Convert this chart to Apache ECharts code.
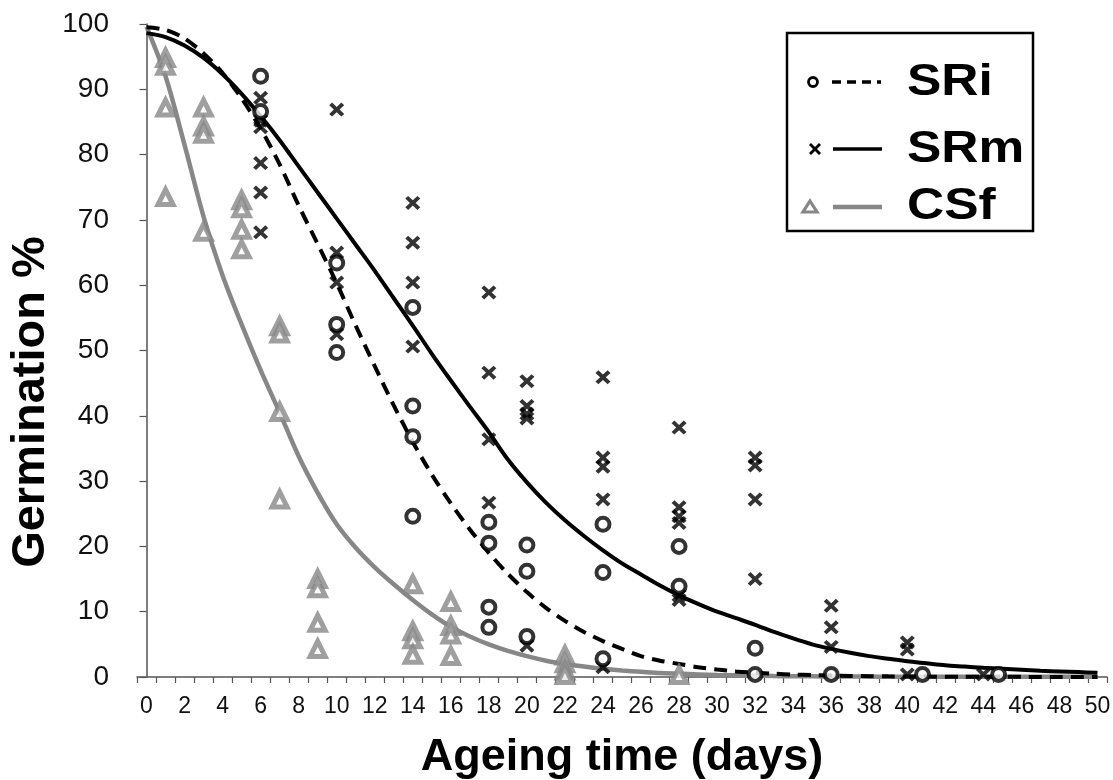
<!DOCTYPE html>
<html>
<head>
<meta charset="utf-8">
<script src="https://cdn.jsdelivr.net/npm/echarts@6/dist/echarts.min.js"></script>
<style>html,body{margin:0;padding:0;background:#fff}#c{width:1113px;height:780px}</style>
</head>
<body>
<div id="c"></div>
<script>
// ---- data ----
const xCategories = Array.from({length: 51}, (_, i) => String(i)); // tick labels 0..50 (every 2nd shown)
const yTicks = [0, 10, 20, 30, 40, 50, 60, 70, 80, 90, 100];

const sriX = [6,6,10,10,10,14,14,14,14,18,18,18,18,20,20,20,24,24,24,28,28,32,32,36,40.8,44.8];
const sriY = [92,86.6,63.4,54,49.7,56.6,41.5,36.8,24.6,23.7,20.5,10.7,7.6,20.2,16.2,6.2,23.4,16,2.8,20,13.9,4.4,0.4,0.4,0.4,0.4];

const srmX = [6,6,6,6,6,6,10,10,10,10,14,14,14,14,18,18,18,18,20,20,20,20,20,24,24,24,24,24,28,28,28,28,28,28,32,32,32,32,36,36,36,40,40,40,44];
const srmY = [88.7,85.2,84.2,78.7,74.2,68.1,86.9,65,60.4,52.5,72.6,66.5,60.4,50.6,58.9,46.6,36.4,26.7,45.3,41.5,40.3,39.6,4.8,45.9,33.6,32.2,27.2,1.5,38.2,26,24.6,23.6,12.5,11.8,33.6,32.4,27.2,15,10.9,7.6,4.6,5.3,4.2,0.4,0.4];

const csfX = [1,1,1,1,3,3,3,3,5,5,5,5,7,7,7,7,9,9,9,9,14,14,14,14,16,16,16,16,22,22,22,22,28];
const csfY = [94.8,93.6,87.2,73.5,87.2,84.3,83.2,68.2,73,71.8,68.5,65.5,53.7,52.6,40.6,27.2,15,13.6,8.3,4.3,14.2,7,5.8,3.4,11.5,7.8,6.5,3.2,3.3,2.1,1,0.3,0.3];

// fitted curves, read at each day 0..50
const curveX = Array.from({length: 51}, (_, i) => i);
const sriFit = [99.5,99.1,97.8,95.5,92.5,88.6,84,78.5,72.2,66.3,60.3,53.8,47.6,41.6,36,31,26.6,22.6,19,15.8,13,10.6,8.6,6.9,5.5,4.3,3.2,2.5,2,1.5,1.15,0.85,0.65,0.5,0.38,0.3,0.22,0.17,0.13,0.1,0.08,0.06,0.05,0.04,0.03,0.02,0.02,0.01,0.01,0.01,0.01];
const srmFit = [98.6,98,96.7,94.8,92.3,89.3,85.9,82.2,78.2,74.2,70.2,66.2,62.2,58,53.8,49.5,45.4,41.4,37.5,33.3,29.8,26.7,24,21.6,19.4,17.4,15.7,14,12.5,11.2,10,9,8,6.9,5.9,5,4.3,3.7,3.2,2.8,2.4,2.1,1.8,1.6,1.4,1.25,1.1,0.95,0.85,0.75,0.65];
const csfFit = [99.6,92,81.5,70.5,61.5,54,47,40.5,33.8,28.2,23.4,19.8,16.8,14.2,11.8,9.6,7.7,6.2,5,4,3.2,2.5,2,1.6,1.25,1,0.8,0.6,0.5,0.4,0.3,0.25,0.2,0.15,0.12,0.1,0.08,0.07,0.06,0.05,0.04,0.04,0.03,0.03,0.03,0.02,0.02,0.02,0.02,0.02,0.02];

const seriesNames = ['SRi', 'SRm', 'CSf'];
const xTitle = 'Ageing time (days)';
const yTitle = 'Germination %';
// ---------------------------------------

const zip = (xs, ys) => xs.map((x, i) => [x, ys[i]]);
const FONT = "'Liberation Sans', Arial, sans-serif";
const GRAY = '#878787';
const XPATH = 'path://M1.9,0 L5,3.1 L8.1,0 L10,1.9 L6.9,5 L10,8.1 L8.1,10 L5,6.9 L1.9,10 L0,8.1 L3.1,5 L0,1.9 Z';
const LEG_FONT = "bold 44px 'Liberation Sans', Arial, sans-serif";

const chart = echarts.init(document.getElementById('c'), null, {renderer: 'canvas'});
chart.setOption({
  animation: false,
  backgroundColor: '#fff',
  grid: {left: 137, right: 6, top: 24, bottom: 103, containLabel: false, outerBoundsMode: 'none'},
  xAxis: [
    {
      type: 'category', data: xCategories, boundaryGap: true,
      name: xTitle, nameLocation: 'middle', nameGap: 58,
      nameTextStyle: {fontFamily: FONT, fontSize: 45, fontWeight: 'bold', color: '#000'},
      axisLine: {show: true, lineStyle: {color: '#555', width: 1.5}},
      axisTick: {show: true, interval: 0, length: 6, lineStyle: {color: '#555', width: 1.2}},
      axisLabel: {show: true, interval: 1, margin: 18, fontFamily: FONT, fontSize: 23, color: '#111'},
      splitLine: {show: false}
    },
    {type: 'value', min: -0.5, max: 50.5, show: false, splitLine: {show: false}}
  ],
  yAxis: {
    type: 'value', min: 0, max: 100, interval: 10,
    axisLine: {show: true, lineStyle: {color: '#555', width: 1.5}},
    axisTick: {show: true, length: 7, lineStyle: {color: '#555', width: 1.2}},
    axisLabel: {margin: 28, fontFamily: FONT, fontSize: 28, color: '#111',
      formatter: v => yTicks.includes(v) ? String(v) : ''},
    splitLine: {show: false}
  },
  series: [
    {name: seriesNames[2] + ' fit', type: 'line', xAxisIndex: 1, data: zip(curveX, csfFit), smooth: 0.3, showSymbol: false,
      lineStyle: {color: GRAY, width: 4.5}, z: 2},
    {name: seriesNames[1] + ' fit', type: 'line', xAxisIndex: 1, data: zip(curveX, srmFit), smooth: 0.3, showSymbol: false,
      lineStyle: {color: '#000', width: 4}, z: 2},
    {name: seriesNames[0] + ' fit', type: 'line', xAxisIndex: 1, data: zip(curveX, sriFit), smooth: 0.3, showSymbol: false,
      lineStyle: {color: '#000', width: 4, type: [13, 8]}, z: 2},
    {name: seriesNames[2], type: 'scatter', xAxisIndex: 1, data: zip(csfX, csfY), symbol: 'triangle', symbolSize: 15,
      itemStyle: {color: '#fff', borderColor: GRAY, borderWidth: 5}, z: 3},
    {name: seriesNames[1], type: 'scatter', xAxisIndex: 1, data: zip(srmX, srmY), symbol: XPATH, symbolSize: [15, 14],
      itemStyle: {color: '#000'}, z: 3},
    {name: seriesNames[0], type: 'scatter', xAxisIndex: 1, data: zip(sriX, sriY), symbol: 'circle', symbolSize: 13,
      itemStyle: {color: '#fff', borderColor: '#000', borderWidth: 4}, z: 4}
  ],
  graphic: [
    {type: 'text', x: 31, y: 402, rotation: Math.PI / 2,
      style: {text: yTitle, font: "bold 47px 'Liberation Sans', Arial, sans-serif", fill: '#000', align: 'center', verticalAlign: 'middle'}},
    {type: 'group', z: 100, children: [
      {type: 'rect', shape: {x: 787, y: 33, width: 246, height: 198}, style: {fill: '#fff', stroke: '#000', lineWidth: 2.5}},
      // SRi
      {type: 'circle', shape: {cx: 813, cy: 82, r: 4.5}, style: {fill: '#fff', stroke: '#000', lineWidth: 2.8}},
      {type: 'line', shape: {x1: 832, y1: 82, x2: 881, y2: 82}, style: {stroke: '#000', lineWidth: 3.5, lineDash: [9, 6]}},
      {type: 'text', x: 907, y: 83, scaleX: 1.17, style: {text: seriesNames[0], font: LEG_FONT, fill: '#000', verticalAlign: 'middle'}},
      // SRm
      {type: 'line', shape: {x1: 810, y1: 144, x2: 820, y2: 154}, style: {stroke: '#000', lineWidth: 2.8}},
      {type: 'line', shape: {x1: 820, y1: 144, x2: 810, y2: 154}, style: {stroke: '#000', lineWidth: 2.8}},
      {type: 'line', shape: {x1: 833, y1: 149, x2: 882, y2: 149}, style: {stroke: '#000', lineWidth: 3.5}},
      {type: 'text', x: 907, y: 150, scaleX: 1.17, style: {text: seriesNames[1], font: LEG_FONT, fill: '#000', verticalAlign: 'middle'}},
      // CSf
      {type: 'polygon', shape: {points: [[810, 201], [817, 212], [803, 212]]}, style: {fill: '#fff', stroke: GRAY, lineWidth: 3.2}},
      {type: 'line', shape: {x1: 833, y1: 207, x2: 882, y2: 207}, style: {stroke: GRAY, lineWidth: 4.5}},
      {type: 'text', x: 907, y: 207, scaleX: 1.17, style: {text: seriesNames[2], font: LEG_FONT, fill: '#000', verticalAlign: 'middle'}}
    ]}
  ]
});
</script>
</body>
</html>
